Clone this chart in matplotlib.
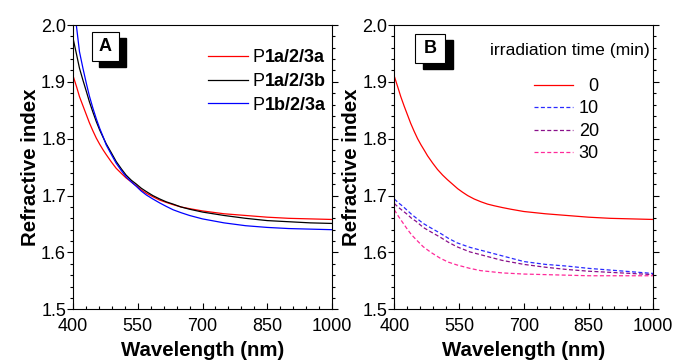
import matplotlib
matplotlib.use("Agg")
import matplotlib.pyplot as plt
from matplotlib.patches import Rectangle
from matplotlib.ticker import FixedLocator, MultipleLocator, FormatStrFormatter

plt.rcParams['font.family'] = ['Liberation Sans', 'DejaVu Sans']

# ---------------- data ----------------
wl_a = [400, 408, 415, 423, 431, 438, 446, 454, 462, 470, 477, 489, 500, 512, 523, 535, 547, 558, 570, 585,
        601, 616, 632, 650, 670, 700, 750, 800, 850, 900, 950, 1000]
n_p1a_3a = [1.911, 1.892, 1.874, 1.858, 1.842, 1.828, 1.814, 1.801, 1.790, 1.780, 1.772, 1.759, 1.748, 1.739,
            1.731, 1.724, 1.717, 1.710, 1.704, 1.698, 1.692, 1.688, 1.684, 1.680, 1.677, 1.673, 1.668, 1.665,
            1.662, 1.660, 1.659, 1.658]
n_p1a_3b = [1.977, 1.949, 1.924, 1.903, 1.883, 1.865, 1.847, 1.830, 1.815, 1.802, 1.791, 1.775, 1.760, 1.747,
            1.736, 1.727, 1.720, 1.713, 1.707, 1.700, 1.694, 1.689, 1.685, 1.680, 1.676, 1.671, 1.665, 1.660,
            1.656, 1.654, 1.652, 1.651]
n_p1b_3a = [2.055, 1.998, 1.953, 1.924, 1.897, 1.875, 1.854, 1.835, 1.818, 1.803, 1.789, 1.772, 1.757, 1.744,
            1.733, 1.724, 1.716, 1.708, 1.701, 1.694, 1.687, 1.681, 1.675, 1.670, 1.665, 1.659, 1.652, 1.647,
            1.644, 1.642, 1.641, 1.640]
legend_prefix_a = ["P", "P", "P"]
legend_bold_a = ["1a/2/3a", "1a/2/3b", "1b/2/3a"]

wl_b0 = [400, 408, 415, 423, 431, 438, 446, 454, 462, 470, 477, 489, 500, 512, 523, 535, 547, 558, 570, 585,
         601, 616, 632, 650, 670, 700, 750, 800, 850, 900, 950, 1000]
n_0min = [1.910, 1.891, 1.874, 1.857, 1.841, 1.827, 1.813, 1.800, 1.789, 1.779, 1.770, 1.757, 1.746, 1.736,
          1.728, 1.720, 1.712, 1.706, 1.700, 1.694, 1.689, 1.685, 1.682, 1.679, 1.676, 1.672, 1.668, 1.665,
          1.662, 1.660, 1.659, 1.658]
wl_b = [400, 410, 420, 430, 440, 450, 467, 485, 506, 525, 545, 575, 600, 650, 700, 750, 800, 850, 900, 950, 1000]
n_10min = [1.694, 1.687, 1.681, 1.674, 1.667, 1.661, 1.651, 1.643, 1.634, 1.625, 1.617, 1.609, 1.604, 1.594,
           1.584, 1.579, 1.576, 1.572, 1.569, 1.566, 1.563]
n_20min = [1.686, 1.679, 1.673, 1.667, 1.660, 1.655, 1.644, 1.636, 1.627, 1.618, 1.610, 1.601, 1.596, 1.586,
           1.579, 1.574, 1.570, 1.567, 1.565, 1.563, 1.561]
n_30min = [1.675, 1.663, 1.652, 1.641, 1.631, 1.623, 1.610, 1.600, 1.590, 1.583, 1.578, 1.572, 1.568, 1.564,
           1.562, 1.561, 1.560, 1.559, 1.559, 1.559, 1.559]
labels_b = ["  0", "10", "20", "30"]

xticks = [400, 550, 700, 850, 1000]

W, H = 675, 361
fig = plt.figure(figsize=(W / 100, H / 100), dpi=100)

def px_axes(x0, y0, x1, y1):
    return fig.add_axes([x0 / W, 1 - y1 / H, (x1 - x0) / W, (y1 - y0) / H])

axA = px_axes(73, 25, 332, 309.3)
axB = px_axes(394.3, 25, 653.3, 309.3)

def style(ax):
    ax.set_xlim(400, 1000)
    ax.set_ylim(1.5, 2.0)
    ax.xaxis.set_major_locator(FixedLocator(xticks))
    ax.xaxis.set_minor_locator(FixedLocator(list(range(400, 1001, 30))))
    ax.yaxis.set_major_locator(MultipleLocator(0.1))
    ax.yaxis.set_minor_locator(MultipleLocator(0.02))
    ax.yaxis.set_major_formatter(FormatStrFormatter('%.1f'))
    for s in ax.spines.values():
        s.set_linewidth(0.8)
    ax.tick_params(axis='y', which='both', direction='out', left=True, right=True, width=0.8, labelsize=13, pad=1)
    ax.tick_params(axis='y', which='major', length=4)
    ax.tick_params(axis='y', which='minor', length=2.5)
    ax.tick_params(axis='x', which='both', direction='in', bottom=True, top=False, width=0.8, labelsize=13, pad=6)
    ax.tick_params(axis='x', which='major', length=4)
    ax.tick_params(axis='x', which='minor', length=2.5)
    ax.set_xlabel("Wavelength (nm)", fontsize=14.7, fontweight='bold', labelpad=4.5)
    ax.set_ylabel("Refractive index", fontsize=14.7, fontweight='bold', labelpad=1)

style(axA)
style(axB)

# Panel A
axA.plot(wl_a, n_p1a_3a, color='#ff0000', lw=0.9, label=legend_prefix_a[0])
axA.plot(wl_a, n_p1a_3b, color='#000000', lw=0.9, label=legend_prefix_a[1])
axA.plot(wl_a, n_p1b_3a, color='#0000ff', lw=0.9, label=legend_prefix_a[2])
legA = axA.legend(loc='upper left', bbox_to_anchor=((208 - 73) / 259, 1 - (49 - 25) / 284.3), frameon=False,
                  fontsize=13, handlelength=2.2, handletextpad=0.28, labelspacing=0.38, borderaxespad=0,
                  borderpad=0)

# Panel B
dash = (0, (3.2, 1.9))
axB.plot(wl_b0, n_0min, color='#ff0000', lw=0.9, label=labels_b[0])
axB.plot(wl_b, n_10min, color='#2a2aff', lw=0.9, ls=dash, label=labels_b[1])
axB.plot(wl_b, n_20min, color='#8a108a', lw=0.9, ls=dash, label=labels_b[2])
axB.plot(wl_b, n_30min, color='#ff2a9a', lw=0.9, ls=dash, label=labels_b[3])
axB.legend(loc='upper left', bbox_to_anchor=((533.5 - 394.3) / 259, 1 - (78 - 25) / 284.3), frameon=False,
           fontsize=13, handlelength=2.2, handletextpad=0.3, labelspacing=0.3, borderaxespad=0,
           borderpad=0)
axB.text((650 - 394.3) / 259, 1 - (51 - 25) / 284.3, "irradiation time (min)", transform=axB.transAxes,
         ha='right', va='center', fontsize=12.6)

# bold parts of legend labels in panel A
fig.canvas.draw()
renderer = fig.canvas.get_renderer()
inv = fig.transFigure.inverted()
for t, bold in zip(legA.get_texts(), legend_bold_a):
    bb = t.get_window_extent(renderer)
    x, y = inv.transform((bb.x1, bb.y0))
    fig.text(x, y, bold, ha='left', va='bottom', fontsize=13, fontweight='bold')

# Letter boxes
def letter_box(x0, y0, x1, y1, sx, sy, letter):
    fig.patches.append(Rectangle((sx / W, 1 - (y1 + sy) / H), (x1 - x0) / W, (y1 - y0) / H,
                                 transform=fig.transFigure, facecolor='black', edgecolor='black', zorder=5))
    fig.patches.append(Rectangle((x0 / W, 1 - y1 / H), (x1 - x0) / W, (y1 - y0) / H,
                                 transform=fig.transFigure, facecolor='white', edgecolor='black', lw=0.8, zorder=6))
    fig.text((x0 + x1) / 2 / W, 1 - (y0 + y1) / 2 / H, letter, ha='center', va='center',
             fontsize=13, fontweight='bold', zorder=7)

letter_box(92, 32, 119, 61, 99, 6, "A")
letter_box(415, 34, 445, 63, 423, 6, "B")

fig.savefig("out.png", dpi=100)
